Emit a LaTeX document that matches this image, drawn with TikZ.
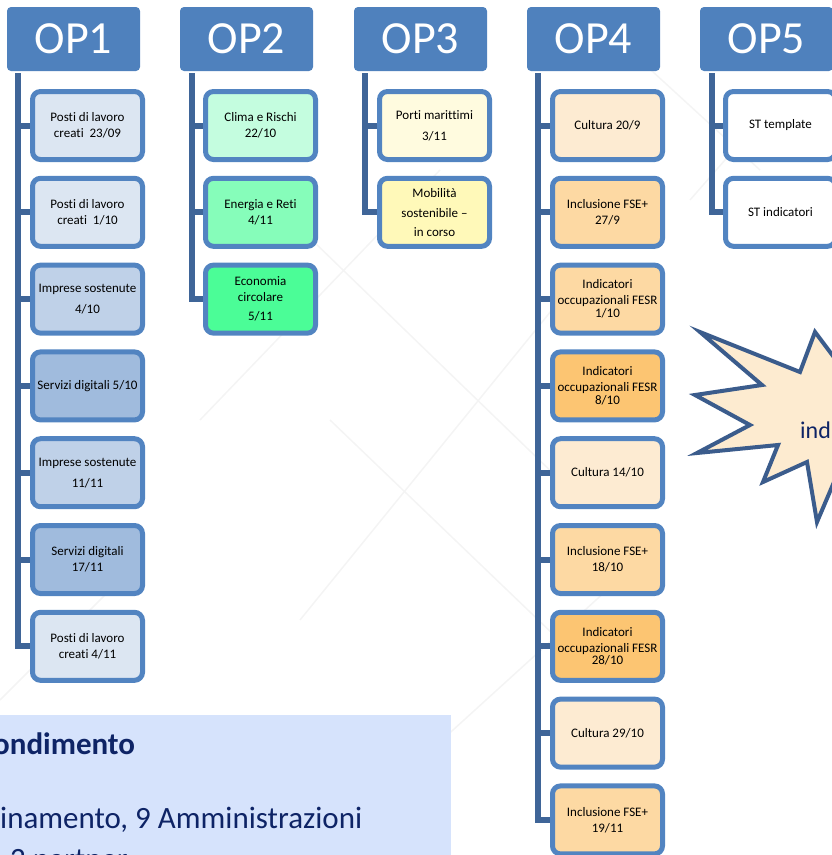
\documentclass[tikz,border=0pt]{standalone}
\usepackage{fontspec}
\setmainfont[Ligatures={TeX,NoCommon}]{Carlito}

\definecolor{headblue}{HTML}{4F81BD}
\definecolor{trunkblue}{HTML}{3F6598}
\definecolor{boxline}{HTML}{5284C1}
\definecolor{blueA}{HTML}{DCE6F2}
\definecolor{blueB}{HTML}{BFD1E8}
\definecolor{blueC}{HTML}{A0BBDD}
\definecolor{greenA}{HTML}{C4FDDF}
\definecolor{greenB}{HTML}{86FDBA}
\definecolor{greenC}{HTML}{4BFD97}
\definecolor{yellowA}{HTML}{FFFBDF}
\definecolor{yellowB}{HTML}{FFF9B9}
\definecolor{orangeA}{HTML}{FDEBD2}
\definecolor{orangeB}{HTML}{FDD9A3}
\definecolor{orangeC}{HTML}{FCC572}
\definecolor{starline}{HTML}{3B5C8C}
\definecolor{starfill}{HTML}{FDEBD0}
\definecolor{panelblue}{HTML}{D6E3FC}
\definecolor{navy}{HTML}{0E2466}

\tikzset{
  ophead/.style={fill=headblue, rounded corners=4pt, minimum width=133pt,
    minimum height=64pt, inner sep=0pt, text=white,
    font=\fontsize{46}{50}\selectfont},
  opbox/.style={draw=boxline, line width=5pt, rounded corners=8pt,
    minimum width=110pt, minimum height=68pt, inner sep=1pt, align=center,
    font=\fontsize{13}{16}\selectfont},
  trunk/.style={draw=trunkblue, line width=6pt},
  paneltext/.style={anchor=base west, inner sep=0pt, text=navy,
    font=\fontsize{31}{38}\selectfont}
}

\begin{document}
\begin{tikzpicture}[x=1pt, y=-1pt]

    \useasboundingbox (0,0) rectangle (832,855);
    \clip (0,0) rectangle (832,855);

    % Faint background lines
    \begin{scope}[draw=gray!9, line width=1.5pt]
        \draw (250,180) -- (560,480);
        \draw (440,170) -- (200,420);
        \draw (330,420) -- (580,660);
        \draw (560,300) -- (300,620);
        \draw (420,760) -- (640,560);
        \draw (0,700) -- (140,560);
        \draw (640,60) -- (760,170);
        \draw (760,120) -- (690,200);
    \end{scope}

    % Headers
    \node[ophead] (op1) at ( 73.5,39) {OP1};
    \node[ophead] (op2) at (246.5,39) {OP2};
    \node[ophead] (op3) at (420.5,39) {OP3};
    \node[ophead] (op4) at (593.5,39) {OP4};
    \node[ophead] (op5) at (766.5,39) {OP5};

    % OP1
    \node[opbox, fill=blueA] (op1a) at (87.5,125.5) {Posti di lavoro\\creati~ 23/09};
    \node[opbox, fill=blueA] (op1b) at (87.5,212.3) {Posti di lavoro\\creati~ 1/10};
    \node[opbox, fill=blueB] (op1c) at (87.5,299.1) {Imprese sostenute\\[5pt]4/10};
    \node[opbox, fill=blueC] (op1d) at (87.5,385.9) {Servizi digitali 5/10};
    \node[opbox, fill=blueB] (op1e) at (87.5,472.7) {Imprese sostenute\\[5pt]11/11};
    \node[opbox, fill=blueC] (op1f) at (87.5,559.5) {Servizi digitali\\17/11};
    \node[opbox, fill=blueA] (op1g) at (87.5,646.3) {Posti di lavoro\\creati 4/11};

    % OP2
    \node[opbox, fill=greenA] (op2a) at (260.5,125.5) {Clima e Rischi\\22/10};
    \node[opbox, fill=greenB] (op2b) at (260.5,212.3) {Energia e Reti\\4/11};
    \node[opbox, fill=greenC] (op2c) at (260.5,299.1) {Economia\\circolare\\[3pt]5/11};

    % OP3
    \node[opbox, fill=yellowA] (op3a) at (434.5,125.5) {Porti marittimi\\[5pt]3/11};
    \node[opbox, fill=yellowB] (op3b) at (434.5,212.3) {Mobilità\\[4pt]sostenibile \textendash\\[3pt]in corso};

    % OP4
    \node[opbox, fill=orangeA] (op4a) at (607.5,125.5) {Cultura 20/9};
    \node[opbox, fill=orangeB] (op4b) at (607.5,212.3) {Inclusione FSE+\\27/9};
    \node[opbox, fill=orangeB] (op4c) at (607.5,299.1) {Indicatori\\occupazionali FESR\\[-3.3pt]1/10};
    \node[opbox, fill=orangeC] (op4d) at (607.5,385.9) {Indicatori\\occupazionali FESR\\[-3.3pt]8/10};
    \node[opbox, fill=orangeA] (op4e) at (607.5,472.7) {Cultura 14/10};
    \node[opbox, fill=orangeB] (op4f) at (607.5,559.5) {Inclusione FSE+\\18/10};
    \node[opbox, fill=orangeC] (op4g) at (607.5,646.3) {Indicatori\\occupazionali FESR\\[-3.3pt]28/10};
    \node[opbox, fill=orangeA] (op4h) at (607.5,733.1) {Cultura 29/10};
    \node[opbox, fill=orangeB] (op4i) at (607.5,819.9) {Inclusione FSE+\\19/11};

    % OP5
    \node[opbox, fill=white] (op5a) at (780.5,125.5) {ST template};
    \node[opbox, fill=white] (op5b) at (780.5,212.3) {ST indicatori};

    % Trunks
    \coordinate (op1t) at ( 18.0,73);
    \coordinate (op2t) at (191.5,73);
    \coordinate (op3t) at (365.0,73);
    \coordinate (op4t) at (538.0,73);
    \coordinate (op5t) at (711.5,73);

    \foreach \b in {a,...,g} \draw[trunk] (op1t) |- (op1\b.west);
    \foreach \b in {a,...,c} \draw[trunk] (op2t) |- (op2\b.west);
    \foreach \b in {a,b}     \draw[trunk] (op3t) |- (op3\b.west);
    \foreach \b in {a,...,i} \draw[trunk] (op4t) |- (op4\b.west);
    \foreach \b in {a,b}     \draw[trunk] (op5t) |- (op5\b.west);

    % Star
    \draw[draw=starline, fill=starfill, line width=4pt]
        (700,332) -- (800,372) -- (815,332) -- (845,372) -- (900,340)
        -- (880,420) -- (900,500) -- (840,468) -- (817,522) -- (807,462)
        -- (763,482) -- (778,445) -- (697,453) -- (750,425) -- (695,395)
        -- (762,385) -- cycle;
    \node[anchor=base west, inner sep=0pt, text=navy,
        font=\fontsize{24}{28}\selectfont] (startext) at (800,438) {ind};

    % Bottom panel
    \fill[panelblue] (-5,715) rectangle (451,860);
    \node[paneltext, font=\fontsize{31}{38}\selectfont\bfseries] (panelhead) at (-7,754) {ondimento};
    \node[paneltext] (panelone) at (0,828) {inamento, 9 Amministrazioni};
    \node[paneltext] (paneltwo) at (10,869) {2 partner};

\end{tikzpicture}
\end{document}
